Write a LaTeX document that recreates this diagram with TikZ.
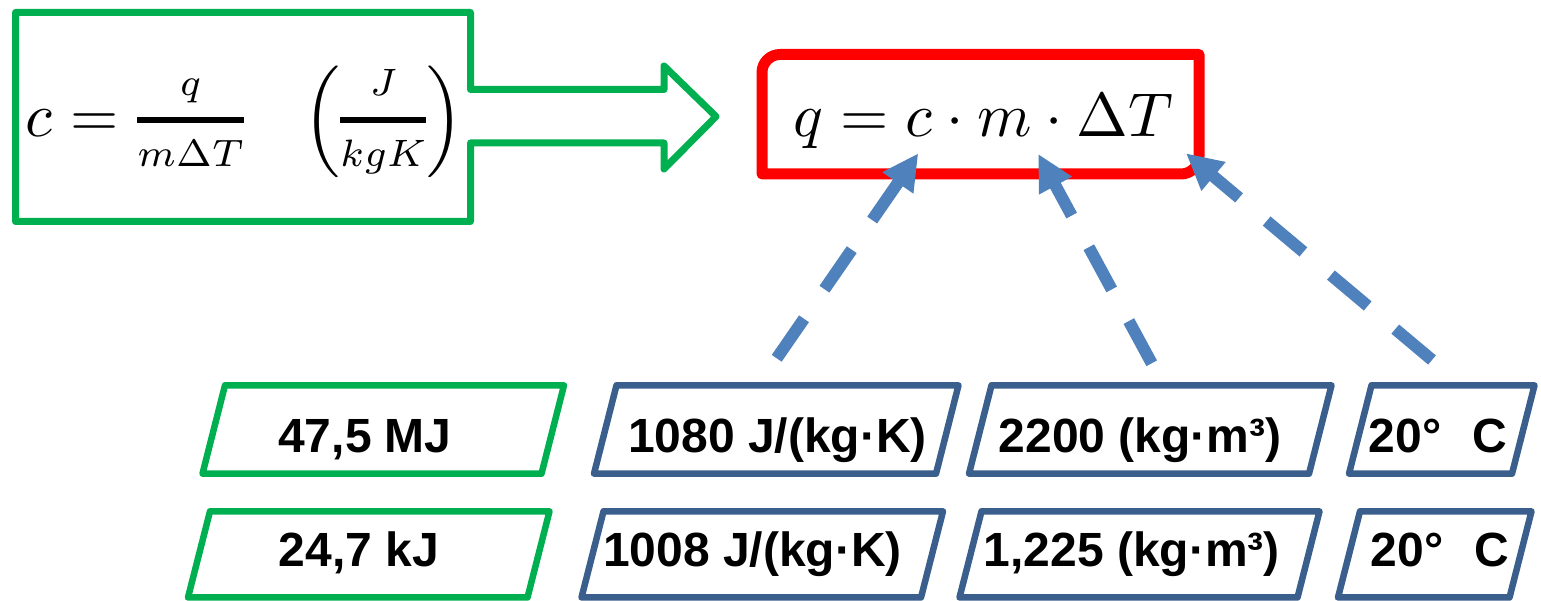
\documentclass[tikz,border=0pt]{standalone}
\usepackage{amsmath}
\usepackage{graphicx}
\usepackage{fontspec}
\newfontfamily\labfont{Liberation Sans}
\usetikzlibrary{arrows.meta}
\definecolor{grn}{HTML}{00B050}
\definecolor{bbox}{HTML}{3A5F8C}
\definecolor{barr}{HTML}{4F81BD}
\definecolor{rd}{HTML}{FF0000}
\newcommand\myfr[2]{\raisebox{0.5pt}{\scalebox{0.88}{$\genfrac{}{}{1.1pt}{1}{\rule[-2.9pt]{0pt}{0pt}#1}{\rule{0pt}{6.8pt}#2}$}}}
\tikzset{
  gshape/.style={draw=grn,line width=7pt,line join=round},
  rshape/.style={draw=rd,line width=11pt,line join=round},
  gpar/.style={draw=grn,line width=6.5pt,line join=round},
  bpar/.style={draw=bbox,line width=6.5pt,line join=round},
  lab/.style={font=\fontsize{48}{56}\selectfont\labfont\bfseries,anchor=base,inner sep=0pt},
  formula/.style={anchor=base west,inner sep=0pt},
  darrow/.style={draw=barr,line width=12pt,dash pattern=on 48pt off 36pt,-{Triangle[length=36pt,width=35pt]}}
}
\begin{document}
\begin{tikzpicture}[x=1pt,y=1pt]
\useasboundingbox (0,0) rectangle (1541,601);
\fill[white] (0,0) rectangle (1541,601);
% green block arrow
\draw[gshape] (15.5,588.5) -- (470.5,588.5) -- (470.5,511.5) -- (664,511.5) -- (664,535)
  -- (716,484.5) -- (664,432) -- (664,458) -- (470.5,458) -- (470.5,379.5) -- (15.5,379.5) -- cycle;
\node[formula] (def) at (25,464) {\nulldelimiterspace=0pt\scalebox{6.2}{$c\hspace{3pt}{=}\hspace{3pt}\myfr{q}{m\Delta T}\hspace{9.6pt}\Big(\myfr{J}{kgK}\Big)$}};
% red box
\draw[rshape] (762,427) -- (762,528.5) arc[start angle=180,end angle=90,radius=18pt]
  -- (1199,546.5) -- (1199,445) arc[start angle=0,end angle=-90,radius=18pt] -- cycle;
\node[formula] (eq) at (793,464) {\scalebox{6.2}{$q = c \cdot m \cdot \Delta T$}};
% parallelograms row 1
\draw[gpar] (225,215.7) -- ++(339,0) -- ++(-22.5,-88.4) -- ++(-339,0) -- cycle;
\draw[bpar] (616.5,215.7) -- ++(342,0) -- ++(-22.5,-88.4) -- ++(-342,0) -- cycle;
\draw[bpar] (991.5,215.7) -- ++(340,0) -- ++(-22.5,-88.4) -- ++(-340,0) -- cycle;
\draw[bpar] (1371.5,215.7) -- ++(163,0) -- ++(-22.5,-88.4) -- ++(-163,0) -- cycle;
% parallelograms row 2
\draw[gpar] (210,89.7) -- ++(339.5,0) -- ++(-22,-86.2) -- ++(-339.5,0) -- cycle;
\draw[bpar] (603.5,89.7) -- ++(339.5,0) -- ++(-22,-86.2) -- ++(-339.5,0) -- cycle;
\draw[bpar] (981.5,89.7) -- ++(338,0) -- ++(-22,-86.2) -- ++(-338,0) -- cycle;
\draw[bpar] (1360,89.7) -- ++(171.5,0) -- ++(-22,-86.2) -- ++(-171.5,0) -- cycle;
% labels
\node[lab] (v1) at (365,148) {47,5 MJ};
\node[lab] (v2) at (777.5,148) {1080 J/(kg·K)};
\node[lab] (v3) at (1140,148) {2200 (kg·m³)};
\node[lab] (v4) at (1438,148) {20°\hspace{31pt}C};
\node[lab] (v5) at (359,34.3) {24,7 kJ};
\node[lab] (v6) at (752.5,34.3) {1008 J/(kg·K)};
\node[lab] (v7) at (1131.7,34.3) {1,225 (kg·m³)};
\node[lab] (v8) at (1440,34.3) {20°\hspace{31pt}C};
% dashed arrows
\coordinate (t1) at (776.7,242.7); \coordinate (h1) at (918.3,447.7);
\coordinate (t2) at (1151.7,237.7); \coordinate (h2) at (1038.3,447);
\coordinate (t3) at (1432,241); \coordinate (h3) at (1186,447.7);
\draw[darrow] (t1) -- (h1);
\draw[darrow] (t2) -- (h2);
\draw[darrow] (t3) -- (h3);
\end{tikzpicture}
\end{document}
